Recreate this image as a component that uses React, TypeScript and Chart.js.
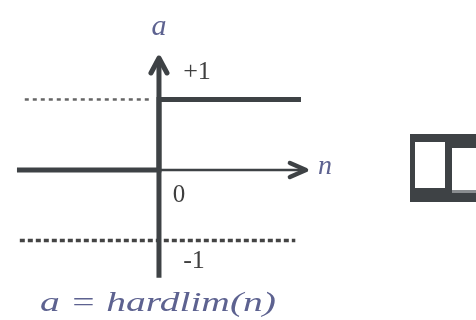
import React, { useEffect, useRef } from "react";
import { Chart, registerables } from "chart.js";

Chart.register(...registerables);

// Hard-limit transfer function a = hardlim(n)
const stepN = [-2, 0, 0, 2];
const stepA = [0, 0, 1, 1];
const vAxisA = [-1.53, 1.56];
const hAxisN = [0, 2.07];
const upperGuideN = [-1.89, -0.13];
const lowerGuideN = [-1.96, 1.92];
const tickLabels = ["+1", "0", "-1"];
const axisNames = ["a", "n"];
const caption = "a = hardlim(n)";

const LINE = "#3e4245";
const BLUE = "#5d6290";

export default function App() {
  const ref = useRef<HTMLCanvasElement | null>(null);
  useEffect(() => {
    document.body.style.margin = "0";
    const canvas = ref.current!;
    const deco = {
      id: "deco",
      afterDatasetsDraw(chart: any) {
        const ctx = chart.ctx;
        const xs = chart.scales.x;
        const ys = chart.scales.y;
        const px = (v: number) => xs.getPixelForValue(v);
        const py = (v: number) => ys.getPixelForValue(v);
        ctx.save();
        // vertical arrow head
        ctx.strokeStyle = LINE;
        ctx.fillStyle = LINE;
        ctx.lineWidth = 5;
        ctx.lineCap = "round";
        ctx.lineJoin = "round";
        const tx = px(0), ty = py(vAxisA[1]) - 2;
        ctx.beginPath();
        ctx.moveTo(tx - 8, ty + 15);
        ctx.lineTo(tx, ty);
        ctx.lineTo(tx + 8, ty + 15);
        ctx.stroke();
        // horizontal arrow head
        const hx = px(hAxisN[1]), hy = py(0);
        ctx.lineWidth = 4.5;
        ctx.beginPath();
        ctx.moveTo(hx - 16, hy - 7);
        ctx.lineTo(hx, hy);
        ctx.lineTo(hx - 16, hy + 7);
        ctx.stroke();
        // texts
        ctx.textBaseline = "middle";
        ctx.textAlign = "center";
        ctx.fillStyle = "#3f3f3f";
        ctx.font = "26px 'Liberation Serif', serif";
        ctx.fillText(tickLabels[0], px(0) + 38, py(1) - 27);
        ctx.font = "25px 'Liberation Serif', serif";
        ctx.fillText(tickLabels[1], px(0) + 20, py(0) + 25);
        ctx.font = "26px 'Liberation Serif', serif";
        ctx.fillText(tickLabels[2], px(0) + 35, py(-1) + 21);
        ctx.fillStyle = BLUE;
        ctx.font = "italic 30px 'Liberation Serif', serif";
        ctx.fillText(axisNames[0], px(0), py(vAxisA[1]) - 33);
        ctx.font = "italic 28px 'Liberation Serif', serif";
        ctx.fillText(axisNames[1], hx + 19, hy - 3);
        // caption stretched to the reference width
        ctx.font = "italic 27px 'Liberation Serif', serif";
        const w = ctx.measureText(caption).width;
        const target = 236;
        ctx.save();
        ctx.translate(158, 304);
        ctx.scale(target / w, 1);
        ctx.fillText(caption, 0, 0);
        ctx.restore();
        // hardlim icon (partially cropped at right edge)
        ctx.fillStyle = LINE;
        ctx.fillRect(410, 134, 70, 68);
        ctx.fillStyle = "#ffffff";
        ctx.fillRect(415, 142, 30, 46);
        ctx.fillRect(452, 148, 30, 42);
        ctx.fillStyle = "#8a8d90";
        ctx.fillRect(452, 190, 30, 3);
        ctx.restore();
      },
    };
    const common = { showLine: true, pointRadius: 0, fill: false };
    const chart = new Chart(canvas, {
      type: "scatter",
      data: {
        datasets: [
          {
            ...common,
            data: stepN.map((n, i) => ({ x: n, y: stepA[i] })),
            borderColor: LINE,
            borderWidth: 5,
            borderCapStyle: "butt",
            borderJoinStyle: "miter",
          },
          {
            ...common,
            data: vAxisA.map((a) => ({ x: 0, y: a })),
            borderColor: LINE,
            borderWidth: 5,
          },
          {
            ...common,
            data: hAxisN.map((n) => ({ x: n, y: 0 })),
            borderColor: LINE,
            borderWidth: 2.5,
          },
          {
            ...common,
            data: upperGuideN.map((n) => ({ x: n, y: 1 })),
            borderColor: "#666",
            borderWidth: 2.5,
            borderDash: [4, 4],
          },
          {
            ...common,
            data: lowerGuideN.map((n) => ({ x: n, y: -1 })),
            borderColor: "#444",
            borderWidth: 3.5,
            borderDash: [5, 3],
          },
        ] as any,
      },
      options: {
        animation: false,
        responsive: false,
        maintainAspectRatio: false,
        layout: { padding: 0 },
        plugins: { legend: { display: false }, tooltip: { enabled: false } },
        scales: {
          x: { type: "linear", display: false, min: -2.239, max: 4.465 },
          y: { type: "linear", display: false, min: -2.128, max: 2.411 },
        },
      },
      plugins: [deco],
    } as any);
    return () => chart.destroy();
  }, []);
  return (
    <div style={{ width: 476, height: 320, background: "#fff" }}>
      <canvas ref={ref} width={476} height={320} style={{ display: "block" }} />
    </div>
  );
}
